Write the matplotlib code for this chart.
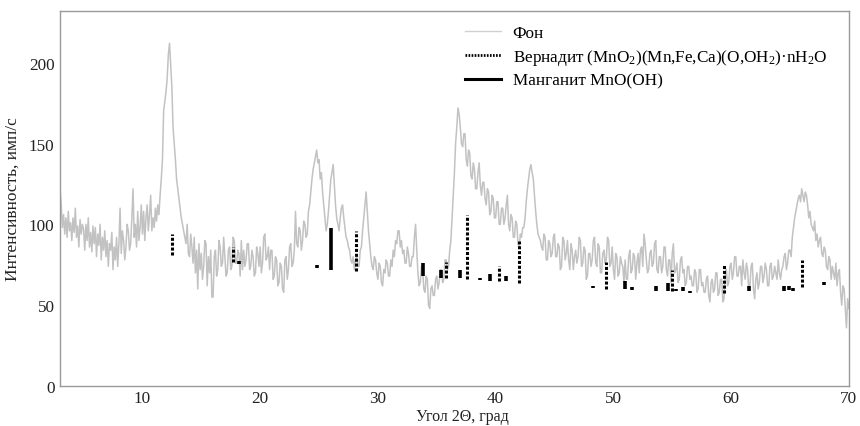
import numpy as np
import matplotlib
matplotlib.use("Agg")
import matplotlib.pyplot as plt
from matplotlib.lines import Line2D

plt.rcParams['font.family'] = ['Liberation Serif', 'DejaVu Serif']
plt.rcParams['mathtext.fontset'] = 'custom'
plt.rcParams['mathtext.rm'] = 'Liberation Serif'
plt.rcParams['mathtext.it'] = 'Liberation Serif:italic'

# --- background pattern, read every 0.1 deg from 3 to 70 ---
intensity = [
    122, 112, 98, 106, 94, 104, 92, 108, 96, 101,     # 3
    90, 104, 95, 110, 92, 99, 86, 103, 94, 100,       # 4
    97, 84, 100, 90, 104, 86, 95, 83, 99, 88,         # 5
    98, 80, 94, 87, 100, 78, 92, 84, 96, 80,          # 6
    90, 74, 88, 84, 95, 72, 86, 78, 92, 74,           # 7
    88, 110, 82, 96, 90, 78, 86, 100, 96, 84,         # 8
    88, 104, 122, 92, 100, 86, 108, 90, 98, 112,      # 9
    94, 108, 90, 104, 112, 96, 106, 118, 96, 104,     # 10
    98, 110, 102, 112, 106, 118, 128, 140, 170, 176,  # 11
    182, 190, 205, 212, 198, 185, 160, 150, 140, 128, # 12
    122, 116, 110, 104, 100, 96, 92, 88, 100, 82,     # 13
    80, 94, 86, 76, 92, 70, 84, 60, 88, 72,           # 14
    82, 66, 74, 90, 88, 62, 80, 70, 84, 55,           # 15
    55, 80, 84, 68, 72, 90, 86, 74, 76, 92,           # 16
    80, 68, 70, 84, 86, 72, 74, 92, 90, 76,           # 17
    76, 84, 82, 68, 90, 72, 84, 74, 78, 88,           # 18
    88, 72, 74, 84, 80, 68, 70, 86, 82, 74,           # 19
    86, 70, 76, 92, 94, 78, 80, 86, 72, 84,           # 20
    84, 66, 68, 80, 78, 62, 64, 76, 74, 60,           # 21
    58, 78, 80, 66, 72, 86, 88, 74, 76, 84,           # 22
    108, 88, 86, 98, 96, 84, 90, 102, 100, 92,        # 23
    94, 108, 112, 120, 128, 134, 138, 142, 146, 138,  # 24
    140, 128, 132, 120, 112, 104, 96, 100, 108, 118,  # 25
    128, 132, 137, 124, 112, 104, 100, 96, 104, 110,  # 26
    112, 104, 98, 92, 90, 86, 84, 78, 76, 80,         # 27
    72, 78, 80, 74, 74, 84, 86, 96, 104, 112,         # 28
    120, 108, 96, 88, 80, 74, 72, 80, 78, 70,         # 29
    66, 76, 74, 64, 62, 72, 70, 78, 76, 68,           # 30
    68, 78, 74, 84, 80, 90, 88, 96, 96, 86,           # 31
    90, 82, 84, 76, 76, 86, 82, 74, 74, 80,           # 32
    80, 92, 100, 84, 70, 62, 64, 74, 72, 60,          # 33
    58, 68, 66, 50, 48, 60, 62, 56, 56, 66,           # 34
    68, 60, 64, 72, 72, 64, 66, 78, 78, 72,           # 35
    74, 84, 90, 104, 118, 132, 150, 160, 172, 168,    # 36
    160, 150, 148, 156, 156, 140, 136, 146, 144, 130, # 37
    128, 138, 134, 122, 122, 132, 138, 124, 118, 126, # 38
    126, 116, 112, 122, 120, 106, 108, 118, 116, 104, # 39
    104, 114, 114, 100, 100, 110, 110, 100, 104, 112, # 40
    118, 100, 96, 106, 104, 92, 92, 102, 100, 88,     # 41
    86, 94, 92, 98, 98, 104, 114, 122, 128, 134,      # 42
    137, 132, 128, 118, 108, 100, 94, 92, 90, 86,     # 43
    84, 94, 92, 78, 78, 90, 88, 80, 82, 92,           # 44
    94, 80, 80, 88, 86, 72, 74, 92, 90, 78,           # 45
    82, 90, 78, 72, 88, 84, 72, 80, 84, 76,           # 46
    80, 92, 90, 74, 76, 86, 84, 66, 68, 82,           # 47
    82, 74, 78, 90, 92, 76, 74, 88, 86, 70,           # 48
    70, 82, 84, 76, 78, 92, 90, 74, 76, 86,           # 49
    72, 66, 82, 80, 68, 70, 80, 76, 74, 64,           # 50
    78, 66, 66, 80, 84, 70, 72, 82, 80, 66,           # 51
    76, 82, 70, 84, 86, 74, 94, 88, 78, 70,           # 52
    72, 82, 84, 74, 76, 88, 90, 72, 70, 80,           # 53
    80, 70, 74, 86, 86, 72, 68, 78, 78, 64,           # 54
    82, 88, 70, 72, 76, 64, 66, 78, 80, 70,           # 55
    72, 62, 64, 74, 74, 66, 68, 62, 62, 72,           # 56
    70, 58, 60, 72, 72, 62, 64, 58, 58, 66,           # 57
    68, 56, 52, 64, 66, 58, 60, 70, 70, 56,           # 58
    58, 66, 66, 52, 54, 70, 72, 62, 64, 74,           # 59
    76, 66, 70, 80, 80, 68, 68, 74, 74, 62,           # 60
    78, 70, 66, 76, 72, 60, 62, 74, 76, 60,           # 61
    54, 66, 70, 60, 64, 74, 74, 64, 68, 76,           # 62
    72, 62, 62, 74, 76, 66, 68, 74, 70, 66,           # 63
    78, 70, 66, 72, 74, 80, 82, 72, 76, 84,           # 64
    84, 80, 92, 98, 104, 108, 112, 116, 118, 114,     # 65
    122, 118, 114, 120, 118, 112, 104, 108, 100, 98,  # 66
    96, 102, 90, 94, 86, 90, 92, 82, 80, 86,          # 67
    84, 74, 72, 80, 78, 66, 74, 70, 66, 76,           # 68
    62, 70, 72, 58, 50, 62, 60, 48, 36, 54,           # 69
    48,                                               # 70
]
two_theta = np.linspace(3.0, 70.0, len(intensity))

# --- reference sticks: position, bottom, top ---
vern_pos = [12.5, 17.7, 28.15, 35.8, 37.6, 40.25, 41.95, 49.4, 54.96, 59.4, 66.0]
vern_lo = [81, 77, 71, 67, 66, 65, 64, 60, 58.5, 57.5, 61]
vern_hi = [94, 86, 96, 76.5, 105.5, 74, 89.5, 77, 71.5, 75, 78]

mang_pos = [18.2, 24.85, 26.04, 33.87, 35.4, 37.0, 38.7, 39.5, 40.9, 48.3, 50.96,
            51.55, 53.6, 54.6, 55.3, 55.9, 56.5, 61.5, 64.5, 64.9, 65.25, 67.9]
mang_lo = [75.5, 73, 72, 68, 67, 66.5, 65.5, 65, 65, 60.5, 60,
           59.5, 59, 58.5, 58.5, 58.5, 57.5, 58.5, 59, 59.5, 59, 62.5]
mang_hi = [77.5, 75, 98, 76, 71.5, 72, 67, 69, 68, 62, 65,
           61, 62, 63.5, 60, 61.5, 59, 62, 62, 62, 60.5, 64.5]

labels = ['Фон',
          'Вернадит (MnO$_2$)(Mn,Fe,Ca)(O,OH$_2$)·nH$_2$O',
          'Манганит MnO(OH)']

fig = plt.figure(figsize=(8.6, 4.27), dpi=100)
ax = fig.add_axes([0.0698, 0.0937, 0.9172, 0.8783])

ax.plot(two_theta, intensity, color='#c2c2c2', lw=1.1, zorder=1)
ax.vlines(vern_pos, vern_lo, vern_hi, colors='black', linestyles=(0, (1, 0.6)), lw=2.2, zorder=3)
ax.vlines(mang_pos, mang_lo, mang_hi, colors='black', linestyles='solid', lw=2.6, zorder=3)

ax.set_xlim(3, 70)
ax.set_ylim(0, 232)
ax.set_xticks([10, 20, 30, 40, 50, 60, 70])
ax.set_yticks([0, 50, 100, 150, 200])
ax.tick_params(length=0, labelsize=12.3, colors='#222222')
ax.tick_params(axis='x', pad=3)
ax.tick_params(axis='y', pad=4)
for s in ax.spines.values():
    s.set_color('#999999')
    s.set_linewidth(1.0)

ax.set_xlabel('Угол 2Θ, град', fontsize=11.5, color='#222222')
ax.xaxis.set_label_coords(0.51, -0.058, transform=ax.transAxes)
ax.xaxis.label.set_va('top')
ax.set_ylabel('Интенсивность, имп/с', fontsize=12.5, labelpad=6, color='#222222')

handles = [Line2D([], [], color='#d0d0d0', lw=1.0),
           Line2D([], [], color='black', lw=2.0, ls=(0, (0.6, 0.5))),
           Line2D([], [], color='black', lw=2.2)]
ax.legend(handles, labels, loc='upper left', bbox_to_anchor=(0.50, 0.99),
          frameon=False, fontsize=12.3, handlelength=2.1, handletextpad=0.7,
          labelspacing=0.34, borderaxespad=0.2)

fig.savefig('out.png', dpi=100)
